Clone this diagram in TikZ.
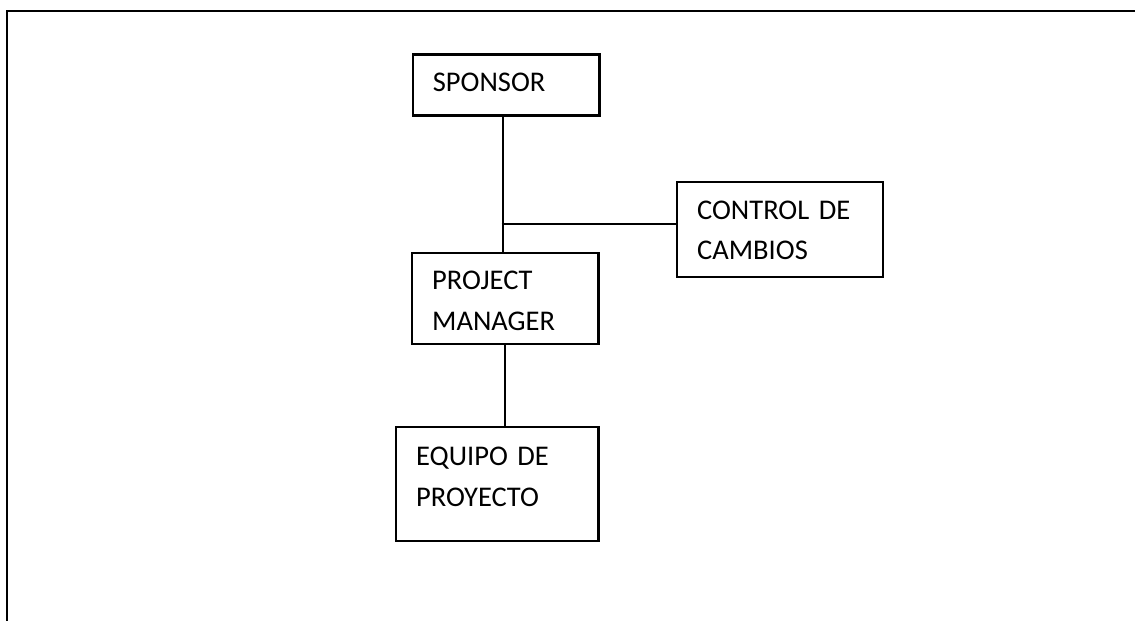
\documentclass[tikz,border=0pt]{standalone}
\usepackage{fontspec}
\setmainfont{Carlito}
\begin{document}
\begin{tikzpicture}[x=1pt, y=1pt,
  unit/.style={draw, line width=2.3pt, rectangle, anchor=north west, align=left,
    inner xsep=20pt, inner ysep=0pt, text height=37pt,
    font={\fontsize{28.5}{40.5}\selectfont}},
  link/.style={line width=2.3pt},
  branch/.style={line width=2.9pt}]
\useasboundingbox (0,0) rectangle (1135,621);

% frame
\draw[line width=2.3pt] (7,0) -- (7,610) -- (1135,610);

\node[unit, text width=146.6pt, text depth=24pt] (spon) at (411.7,567.7) {SPONSOR};
\node[unit, text width=146.3pt, text depth=54pt] (pm) at (411,369.3) {PROJECT\\MANAGER};
\node[unit, text width=166pt, text depth=58pt] (ctrl) at (676,440) {CONTROL DE\\CAMBIOS};
\node[unit, text width=162.3pt, text height=39pt, text depth=75pt] (team) at (395,195.3) {EQUIPO DE\\PROYECTO};

\coordinate (tee) at (501.7,397);

\draw[link] ([xshift=-3.3pt]spon.south) -- ([xshift=-3.3pt]spon.south |- pm.north);
\draw[branch] (tee) -- (tee -| ctrl.west);
\draw[link] (pm.south) -- (pm.south |- team.north);

\end{tikzpicture}
\end{document}
